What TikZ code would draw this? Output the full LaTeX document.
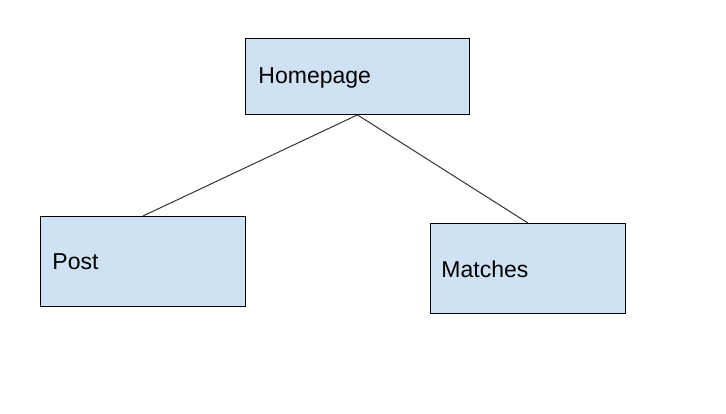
\documentclass[tikz,border=0pt]{standalone}
\usepackage{fontspec}
\setmainfont{Liberation Sans}
\definecolor{boxfill}{HTML}{CFE2F3}
\definecolor{linecol}{HTML}{333333}
\newcommand{\myvstrut}[2]{\rule[-#2]{0pt}{\dimexpr#1+#2\relax}}
\begin{document}
\begin{tikzpicture}[x=1pt,y=-1pt,
  pagebox/.style={draw=black,line width=0.9pt,fill=boxfill,rectangle,anchor=north west,
    align=left,font=\fontsize{23}{25}\selectfont},
  conn/.style={draw=linecol,line width=1pt}]
\useasboundingbox (0,0) rectangle (726,414);
\node[pagebox,minimum width=224,minimum height=76,inner xsep=13,text width=198] (home) at (245,38) {\myvstrut{21pt}{6pt}Homepage};
\node[pagebox,minimum width=205,minimum height=90,inner xsep=12,text width=181] (post) at (40,216) {\myvstrut{22pt}{6.6pt}Post};
\node[pagebox,minimum width=195,minimum height=90,inner xsep=11,text width=173] (matches) at (430,223) {\myvstrut{25pt}{6.4pt}Matches};
\draw[conn] (home.south) -- (post.north);
\draw[conn] (home.south) -- (matches.north);
\end{tikzpicture}
\end{document}
